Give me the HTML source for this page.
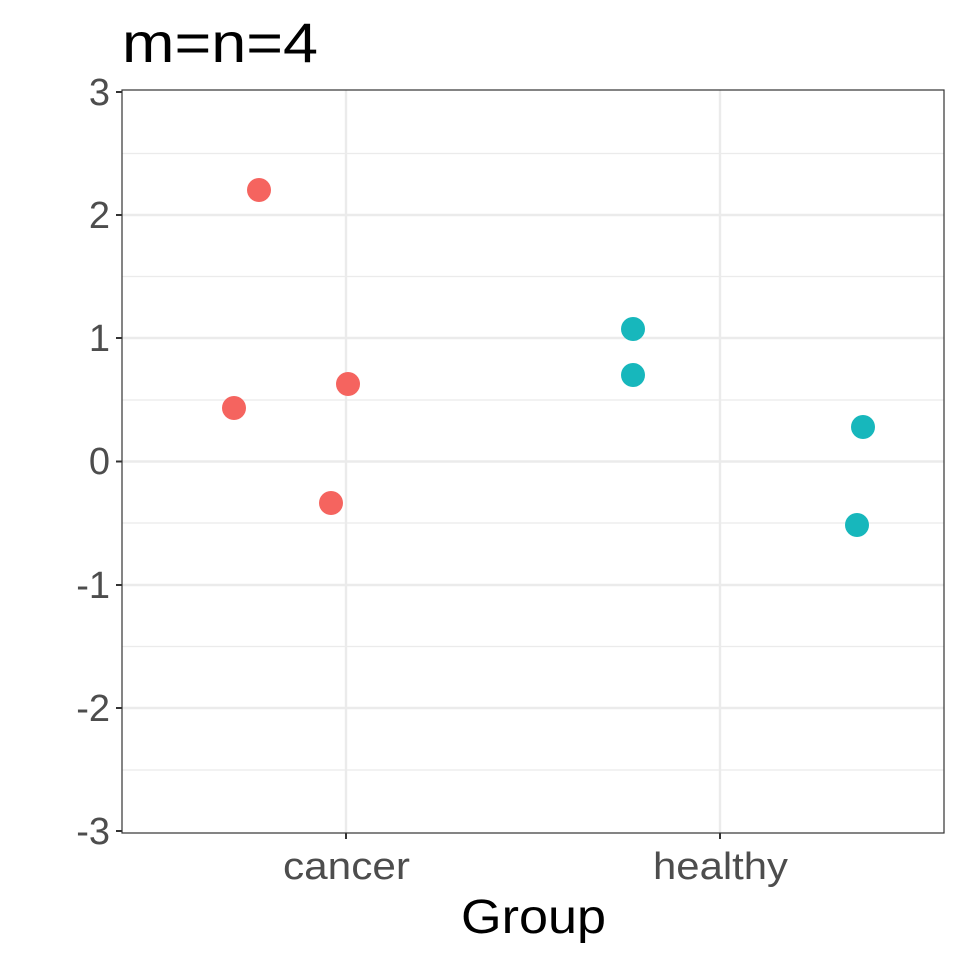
<!DOCTYPE html>
<html><head><style>body{margin:0;background:#fff}</style></head><body>
<svg width="960" height="960" xmlns="http://www.w3.org/2000/svg" font-family="Liberation Sans, sans-serif">
<rect width="960" height="960" fill="#fff"/>
<g stroke="#ebebeb" stroke-width="1.2">
<line x1="122" x2="944" y1="153.5" y2="153.5"/><line x1="122" x2="944" y1="276.5" y2="276.5"/>
<line x1="122" x2="944" y1="400" y2="400"/><line x1="122" x2="944" y1="523" y2="523"/>
<line x1="122" x2="944" y1="646.5" y2="646.5"/><line x1="122" x2="944" y1="770" y2="770"/>
</g>
<g stroke="#ebebeb" stroke-width="2.4">
<line x1="122" x2="944" y1="215" y2="215"/><line x1="122" x2="944" y1="338" y2="338"/>
<line x1="122" x2="944" y1="461.5" y2="461.5"/><line x1="122" x2="944" y1="585" y2="585"/>
<line x1="122" x2="944" y1="708" y2="708"/>
<line x1="346" x2="346" y1="90" y2="833"/><line x1="720" x2="720" y1="90" y2="833"/>
</g>
<g fill="#F5645F"><circle cx="259" cy="190" r="12"/><circle cx="234" cy="408" r="12"/><circle cx="348" cy="384" r="12"/><circle cx="331" cy="503" r="12"/></g>
<g fill="#17B7BC"><circle cx="633" cy="329" r="12"/><circle cx="633" cy="375" r="12"/><circle cx="863" cy="427" r="12"/><circle cx="857" cy="525" r="12"/></g>
<rect x="122" y="90" width="822" height="743" fill="none" stroke="#333" stroke-width="1.2"/>
<g stroke="#333" stroke-width="2">
<line x1="116" x2="122" y1="92" y2="92"/><line x1="116" x2="122" y1="215" y2="215"/><line x1="116" x2="122" y1="338" y2="338"/>
<line x1="116" x2="122" y1="461.5" y2="461.5"/><line x1="116" x2="122" y1="585" y2="585"/><line x1="116" x2="122" y1="708" y2="708"/><line x1="116" x2="122" y1="831" y2="831"/>
<line x1="346" x2="346" y1="833" y2="839"/><line x1="720" x2="720" y1="833" y2="839"/>
</g>
<g fill="#4d4d4d" font-size="38" text-anchor="end">
<text x="110" y="105">3</text><text x="110" y="228">2</text><text x="110" y="351">1</text><text x="110" y="474">0</text>
<text x="110" y="598">-1</text><text x="110" y="721">-2</text><text x="110" y="844">-3</text>
</g>
<g fill="#4d4d4d" font-size="38">
<text x="283" y="879" textLength="127" lengthAdjust="spacingAndGlyphs">cancer</text>
<text x="653" y="879" textLength="135" lengthAdjust="spacingAndGlyphs">healthy</text>
</g>
<text x="461" y="933" font-size="48" fill="#000" textLength="145" lengthAdjust="spacingAndGlyphs">Group</text>
<text x="122" y="62" font-size="56" fill="#000" textLength="196" lengthAdjust="spacingAndGlyphs">m=n=4</text>
</svg>
</body></html>
